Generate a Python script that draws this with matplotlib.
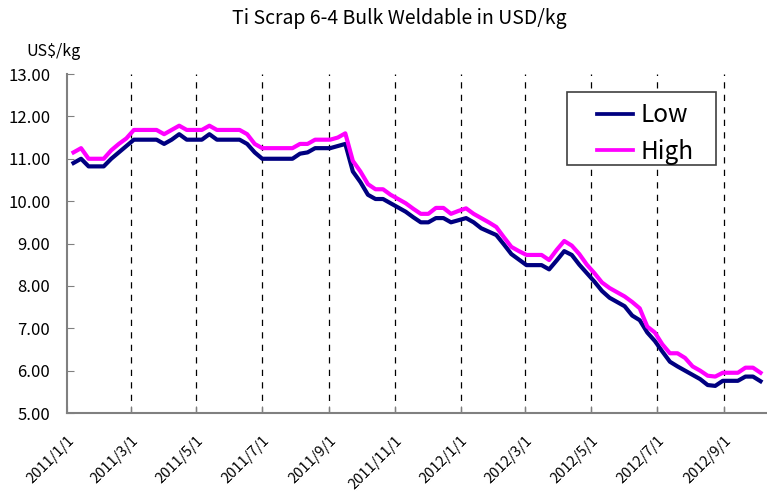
import numpy as np
import pandas as pd
import matplotlib
matplotlib.use("Agg")
import matplotlib.pyplot as plt
from matplotlib.patches import Rectangle

plt.rcParams['font.family'] = ['Noto Sans CJK JP', 'DejaVu Sans']

# weekly prices, US$/kg
dates = pd.date_range("2011-01-07", periods=92, freq="7D")

low = [10.9, 11.0, 10.82, 10.82, 10.82, 11.0, 11.15, 11.3, 11.45, 11.45,
       11.45, 11.45, 11.35, 11.45, 11.58, 11.45, 11.45, 11.45, 11.58, 11.45,
       11.45, 11.45, 11.45, 11.35, 11.15, 11.0, 11.0, 11.0, 11.0, 11.0,
       11.12, 11.15, 11.25, 11.25, 11.25, 11.3, 11.35, 10.7, 10.45, 10.15,
       10.05, 10.05, 9.95, 9.85, 9.75, 9.62, 9.5, 9.5, 9.6, 9.6,
       9.5, 9.55, 9.6, 9.5, 9.36, 9.28, 9.2, 8.98, 8.75, 8.62,
       8.49, 8.49, 8.49, 8.39, 8.6, 8.82, 8.73, 8.5, 8.3, 8.1,
       7.88, 7.72, 7.62, 7.52, 7.3, 7.19, 6.9, 6.7, 6.45, 6.21,
       6.1, 6.0, 5.9, 5.8, 5.66, 5.64, 5.76, 5.76, 5.76, 5.86,
       5.86, 5.75]

high = [11.15, 11.25, 11.0, 11.0, 11.0, 11.2, 11.35, 11.48, 11.68, 11.68,
        11.68, 11.68, 11.58, 11.68, 11.78, 11.68, 11.68, 11.68, 11.78, 11.68,
        11.68, 11.68, 11.68, 11.58, 11.35, 11.25, 11.25, 11.25, 11.25, 11.25,
        11.35, 11.35, 11.45, 11.45, 11.45, 11.5, 11.6, 10.95, 10.7, 10.4,
        10.28, 10.28, 10.15, 10.05, 9.95, 9.82, 9.7, 9.7, 9.84, 9.84,
        9.7, 9.77, 9.83, 9.7, 9.6, 9.5, 9.39, 9.15, 8.92, 8.82,
        8.73, 8.73, 8.73, 8.61, 8.85, 9.06, 8.95, 8.75, 8.5, 8.3,
        8.08, 7.95, 7.85, 7.75, 7.62, 7.47, 7.04, 6.9, 6.62, 6.41,
        6.41, 6.3, 6.1, 6.0, 5.88, 5.86, 5.95, 5.95, 5.95, 6.07,
        6.07, 5.95]

tick_dates = pd.date_range("2011-01-01", "2012-09-01", freq="2MS")

fig = plt.figure(figsize=(7.67, 4.96), dpi=100)
ax = fig.add_axes([0.0874, 0.1673, 0.9126, 0.6835])

ax.plot(dates, low, color="#000080", lw=3, label="Low", zorder=3)
ax.plot(dates, high, color="#FF00FF", lw=3, label="High", zorder=3)

ax.set_ylim(5, 13)
ax.set_yticks(np.arange(5, 13.01, 1))
ax.yaxis.set_major_formatter(matplotlib.ticker.FormatStrFormatter("%.2f"))
ax.set_xlim(pd.Timestamp("2011-01-01"), pd.Timestamp("2012-10-11"))
ax.set_xticks(tick_dates)
ax.set_xticklabels([f"{d.year}/{d.month}/{d.day}" for d in tick_dates],
                   rotation=45, ha="right", rotation_mode="anchor")

ax.tick_params(axis="both", direction="in", length=5, color="#808080", labelsize=12)
ax.tick_params(axis="x", pad=15, labelsize=10.5)
ax.tick_params(axis="y", pad=12)

for d in tick_dates[1:]:
    ax.axvline(d, color="black", lw=0.9, ls=(0, (5, 5)), zorder=1)

for s in ["top", "right"]:
    ax.spines[s].set_visible(False)
for s in ["left", "bottom"]:
    ax.spines[s].set_color("#808080")
    ax.spines[s].set_linewidth(1.5)

fig.text(0.52, 0.963, "Ti Scrap 6-4 Bulk Weldable in USD/kg", ha="center", va="center", fontsize=14)
fig.text(0.07, 0.897, "US$/kg", ha="center", va="center", fontsize=11.5)

# legend box drawn separately so its padding can match
ax.add_patch(Rectangle((0.714, 0.7316), 0.213, 0.2154, transform=ax.transAxes,
                       facecolor="white", edgecolor="#404040", lw=1.2,
                       zorder=4, clip_on=False))
leg = ax.legend(loc="upper left", bbox_to_anchor=(0.757, 0.916), fontsize=17.5,
                frameon=False, handlelength=1.5, handletextpad=0.3,
                borderpad=0, borderaxespad=0, labelspacing=0.42)
for ln in leg.get_lines():
    ln.set_linewidth(2.7)
leg.set_zorder(5)

fig.savefig("out.png", dpi=100)
